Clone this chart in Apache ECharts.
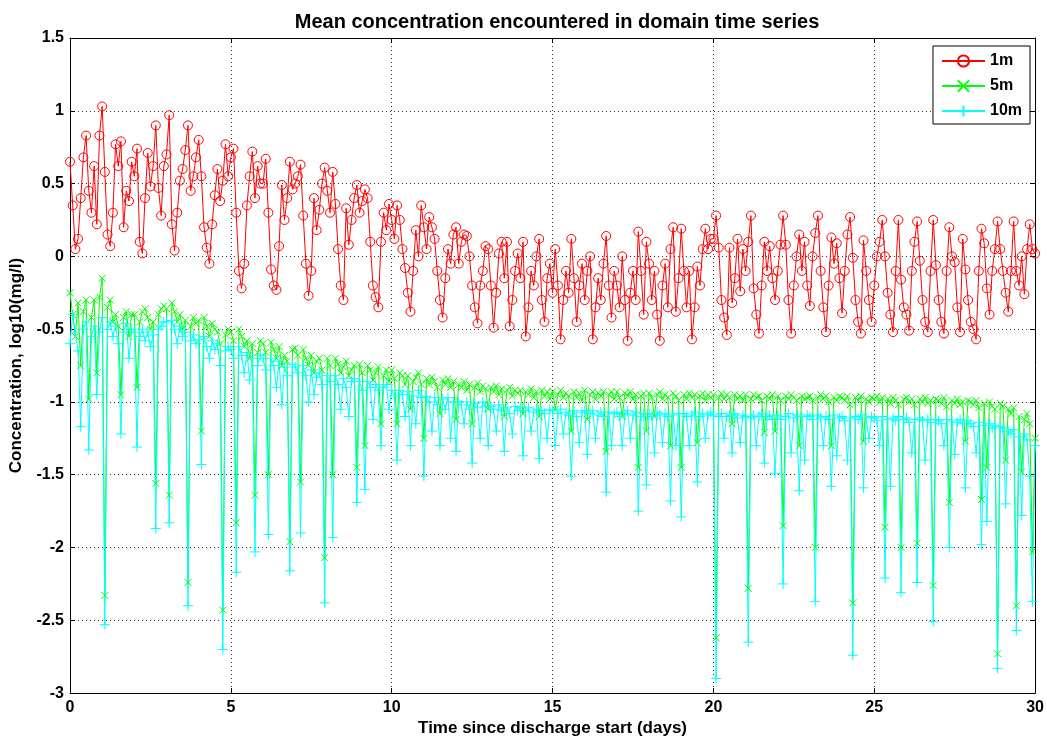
<!DOCTYPE html>
<html>
<head>
<meta charset="utf-8">
<script src="https://cdn.jsdelivr.net/npm/echarts@6/dist/echarts.min.js"></script>
<style>html,body{margin:0;padding:0;background:#fff;}#chart{width:1047px;height:742px;}</style>
</head>
<body>
<div id="chart"></div>
<script>
// Sampling interval of the series (days): one value every 2 hours
const SAMPLE_STEP_DAYS = 1 / 12;
const seriesNames = ['1m', '5m', '10m'];
const xTicks = [0, 5, 10, 15, 20, 25, 30];
const yTicks = [-3, -2.5, -2, -1.5, -1, -0.5, 0, 0.5, 1, 1.5];

// log10 concentration, 1 m depth (one row per day, 12 values per row)
const conc1m = [
  0.65, 0.35, 0.05, 0.12, 0.40, 0.68, 0.83, 0.45, 0.30, 0.62, 0.22, 0.83,
  1.03, 0.58, 0.15, 0.07, 0.30, 0.77, 0.62, 0.79, 0.20, 0.45, 0.38, 0.65,
  0.55, 0.74, 0.10, 0.02, 0.40, 0.71, 0.48, 0.62, 0.90, 0.47, 0.28, 0.62,
  0.70, 0.97, 0.22, 0.04, 0.30, 0.52, 0.60, 0.73, 0.90, 0.45, 0.55, 0.68,
  0.80, 0.55, 0.20, 0.06, -0.05, 0.22, 0.42, 0.60, 0.38, 0.52, 0.77, 0.55,
  0.68, 0.74, 0.30, -0.10, -0.22, -0.05, 0.35, 0.55, 0.72, 0.40, 0.62, 0.50,
  0.50, 0.67, 0.30, -0.09, -0.20, -0.23, 0.07, 0.49, 0.25, 0.40, 0.65, 0.46,
  0.50, 0.55, 0.63, 0.28, -0.05, -0.27, -0.10, 0.40, 0.18, 0.32, 0.50, 0.61,
  0.45, 0.30, 0.58, 0.36, 0.05, -0.20, -0.30, 0.33, 0.08, 0.25, 0.40, 0.49,
  0.30, 0.38, 0.46, 0.40, 0.10, -0.20, -0.28, -0.35, 0.10, 0.30, 0.18, 0.36,
  0.25, 0.12, 0.35, 0.25, 0.05, -0.08, -0.25, -0.38, -0.10, 0.18, 0.00, 0.35,
  0.20, 0.05, 0.27, 0.20, 0.12, -0.10, -0.30, -0.42, -0.15, 0.05, -0.05, 0.15,
  0.20, -0.05, 0.10, 0.15, 0.14, 0.00, -0.20, -0.35, -0.46, -0.20, -0.10, 0.07,
  0.05, -0.20, -0.49, -0.25, 0.02, 0.10, -0.15, 0.10, -0.48, -0.30, -0.10, 0.02,
  -0.15, 0.10, -0.55, -0.35, -0.10, -0.20, 0.00, 0.12, -0.30, -0.45, -0.15, -0.05,
  -0.25, 0.05, -0.20, -0.57, -0.30, -0.10, -0.25, 0.12, -0.15, -0.45, -0.20, -0.05,
  -0.30, -0.10, 0.00, -0.57, -0.35, -0.15, -0.30, -0.05, 0.14, -0.20, -0.42, -0.10,
  -0.20, -0.35, 0.00, -0.30, -0.58, -0.25, -0.10, -0.30, 0.17, -0.10, -0.40, 0.10,
  -0.05, -0.30, -0.10, -0.40, -0.58, -0.20, -0.05, -0.35, 0.05, 0.20, -0.38, -0.15,
  0.19, -0.10, -0.35, -0.10, -0.57, -0.35, -0.07, -0.20, 0.05, 0.19, 0.05, 0.12,
  0.12, 0.28, 0.06, -0.30, -0.42, -0.54, 0.06, -0.32, -0.15, 0.12, -0.24, 0.05,
  -0.10, 0.10, 0.28, -0.22, -0.40, -0.53, -0.20, 0.10, -0.10, 0.07, -0.15, -0.30,
  -0.10, 0.08, 0.28, 0.08, -0.30, -0.53, -0.20, 0.00, 0.15, -0.10, 0.10, -0.20,
  -0.34, 0.00, 0.16, 0.28, -0.10, -0.35, -0.52, -0.20, 0.13, -0.05, 0.09, -0.15,
  -0.39, -0.10, 0.15, 0.27, -0.01, -0.30, -0.45, -0.53, 0.11, -0.10, -0.30, -0.45,
  -0.20, 0.00, 0.10, 0.25, 0.00, -0.25, -0.40, -0.52, -0.10, 0.25, -0.16, -0.35,
  -0.40, -0.51, -0.10, 0.10, 0.24, -0.03, -0.30, -0.45, -0.52, -0.10, 0.25, -0.06,
  -0.30, -0.45, -0.53, -0.10, 0.20, 0.00, -0.04, -0.35, -0.52, 0.12, -0.09, -0.30,
  -0.45, -0.50, -0.57, -0.10, 0.19, 0.09, -0.22, -0.40, -0.10, 0.05, 0.24, 0.05,
  -0.10, -0.25, -0.38, -0.10, 0.24, -0.10, -0.20, 0.00, -0.26, 0.05, 0.22, 0.05,
  0.02
];

// log10 concentration, 5 m depth
const conc5m = [
  -0.25, -0.40, -0.55, -0.32, -0.75, -0.38, -0.30, -0.98, -0.42, -0.30, -0.80, -0.28,
  -0.15, -2.33, -0.35, -0.30, -0.45, -0.40, -0.48, -0.95, -0.42, -0.38, -0.55, -0.40,
  -0.40, -0.90, -0.45, -0.38, -0.36, -0.42, -0.50, -0.45, -1.56, -0.40, -0.36, -0.34,
  -0.36, -1.64, -0.32, -0.38, -0.45, -0.40, -0.50, -0.44, -2.24, -0.48, -0.42, -0.46,
  -0.44, -1.20, -0.42, -0.48, -0.55, -0.46, -0.50, -0.52, -0.60, -2.43, -0.54, -0.50,
  -0.52, -0.58, -1.83, -0.50, -0.55, -0.62, -0.58, -0.70, -0.60, -1.64, -0.66, -0.58,
  -0.60, -0.66, -1.50, -0.59, -0.64, -0.70, -0.62, -0.75, -0.68, -0.72, -1.96, -0.64,
  -0.63, -0.68, -1.55, -0.64, -0.70, -0.75, -0.68, -0.80, -0.72, -0.70, -0.78, -2.07,
  -0.70, -0.75, -1.50, -0.70, -0.74, -0.80, -0.76, -0.72, -0.82, -0.78, -0.75, -1.45,
  -0.74, -0.80, -1.30, -0.75, -0.78, -0.85, -0.80, -0.76, -1.15, -0.82, -0.78, -0.86,
  -0.78, -0.84, -1.15, -0.80, -0.82, -0.88, -0.82, -1.05, -0.86, -0.83, -0.80, -0.88,
  -1.25, -0.84, -0.88, -0.83, -0.86, -0.90, -1.08, -0.85, -0.88, -0.84, -0.90, -0.86,
  -1.12, -0.88, -0.90, -0.86, -0.92, -0.88, -1.15, -0.90, -0.87, -0.93, -0.89, -0.91,
  -1.05, -0.90, -0.93, -0.89, -0.95, -0.91, -1.10, -0.92, -0.90, -0.96, -0.92, -0.94,
  -0.92, -1.08, -0.93, -0.95, -0.91, -0.97, -0.93, -1.10, -0.92, -0.96, -0.93, -0.98,
  -0.93, -1.05, -0.95, -0.92, -0.97, -0.94, -0.96, -1.20, -0.93, -0.97, -0.94, -0.99,
  -0.92, -1.12, -0.95, -0.93, -0.98, -0.94, -0.96, -0.93, -1.34, -0.95, -0.93, -0.98,
  -0.93, -0.97, -1.10, -0.94, -0.96, -0.93, -0.98, -0.95, -1.45, -0.96, -0.94, -1.20,
  -0.94, -0.97, -1.10, -0.95, -0.93, -0.98, -0.95, -0.97, -1.30, -0.94, -0.96, -0.99,
  -1.45, -0.95, -0.98, -0.94, -0.97, -0.95, -1.28, -0.96, -0.94, -0.99, -0.95, -0.97,
  -0.95, -2.62, -0.97, -0.94, -0.98, -0.95, -0.97, -1.15, -0.95, -0.98, -0.96, -0.99,
  -0.95, -2.28, -0.98, -0.95, -0.97, -0.96, -0.99, -1.21, -0.96, -0.98, -0.95, -1.20,
  -0.96, -0.99, -1.85, -0.96, -0.98, -0.95, -0.97, -0.99, -1.30, -0.96, -0.98, -0.97,
  -0.96, -0.99, -2.00, -0.97, -0.95, -0.98, -0.96, -1.00, -1.30, -0.97, -0.99, -0.96,
  -0.97, -0.99, -0.96, -1.02, -2.38, -0.97, -0.99, -0.96, -1.27, -0.98, -1.00, -0.97,
  -0.98, -0.96, -1.00, -0.97, -1.86, -0.98, -1.01, -0.97, -0.99, -1.02, -2.00, -0.98,
  -0.97, -1.00, -0.98, -1.02, -1.97, -0.98, -1.00, -0.97, -1.01, -0.99, -2.26, -0.98,
  -0.99, -1.01, -0.97, -1.03, -1.69, -0.99, -1.01, -0.98, -1.02, -1.00, -1.27, -0.99,
  -1.00, -1.02, -0.99, -1.04, -1.67, -1.01, -1.45, -1.00, -1.03, -1.05, -2.73, -1.01,
  -1.03, -1.40, -1.05, -1.08, -1.04, -2.40, -1.10, -1.48, -1.12, -1.08, -1.15, -2.03,
  -1.25
];

// log10 concentration, 10 m depth
const conc10m = [
  -0.60, -0.40, -0.52, -0.65, -1.17, -0.50, -0.45, -1.33, -0.55, -0.48, -0.95, -0.52,
  -0.42, -2.53, -0.50, -0.45, -0.55, -0.48, -0.60, -1.22, -0.52, -0.46, -0.70, -0.50,
  -0.52, -1.31, -0.55, -0.50, -0.58, -0.52, -0.62, -0.54, -1.87, -0.50, -0.48, -0.45,
  -0.45, -1.83, -0.44, -0.50, -0.60, -0.48, -0.55, -0.52, -2.40, -0.58, -0.54, -0.60,
  -0.57, -1.43, -0.55, -0.62, -0.70, -0.58, -0.64, -0.60, -0.75, -2.70, -0.65, -0.62,
  -0.64, -0.70, -2.17, -0.62, -0.68, -0.80, -0.66, -0.85, -0.70, -2.03, -0.75, -0.68,
  -0.70, -0.78, -1.91, -0.70, -0.75, -0.90, -0.72, -1.02, -0.76, -0.82, -2.16, -0.74,
  -0.76, -0.80, -1.90, -0.75, -0.82, -1.00, -0.78, -0.95, -0.83, -0.80, -0.88, -2.38,
  -0.82, -0.86, -1.93, -0.82, -0.88, -1.05, -0.84, -0.90, -1.10, -0.86, -0.84, -1.69,
  -0.86, -0.92, -1.60, -0.86, -0.90, -1.12, -0.88, -0.92, -1.30, -0.90, -0.88, -1.05,
  -0.92, -0.96, -1.40, -0.92, -0.95, -1.10, -0.93, -1.30, -0.96, -1.15, -0.92, -0.97,
  -1.51, -0.96, -1.00, -1.20, -0.97, -1.02, -1.30, -0.98, -1.05, -0.97, -1.25, -1.00,
  -1.34, -1.00, -1.02, -1.15, -1.00, -1.05, -1.42, -1.01, -1.04, -1.25, -1.00, -1.03,
  -1.30, -1.03, -1.05, -1.20, -1.02, -1.06, -1.34, -1.04, -1.08, -1.22, -1.03, -1.06,
  -1.04, -1.37, -1.06, -1.04, -1.20, -1.07, -1.05, -1.39, -1.06, -1.08, -1.25, -1.05,
  -1.06, -1.30, -1.08, -1.05, -1.22, -1.07, -1.09, -1.51, -1.06, -1.10, -1.28, -1.07,
  -1.06, -1.36, -1.08, -1.06, -1.25, -1.09, -1.07, -1.10, -1.62, -1.07, -1.30, -1.08,
  -1.07, -1.10, -1.30, -1.08, -1.06, -1.25, -1.09, -1.07, -1.75, -1.10, -1.08, -1.57,
  -1.08, -1.10, -1.35, -1.07, -1.09, -1.28, -1.08, -1.10, -1.68, -1.09, -1.30, -1.08,
  -1.79, -1.08, -1.10, -1.30, -1.09, -1.07, -1.55, -1.10, -1.08, -1.25, -1.09, -1.07,
  -1.09, -2.90, -1.10, -1.08, -1.25, -1.10, -1.09, -1.35, -1.08, -1.11, -1.28, -1.09,
  -1.10, -2.65, -1.11, -1.09, -1.30, -1.10, -1.08, -1.42, -1.10, -1.09, -1.12, -1.49,
  -1.09, -1.12, -2.25, -1.10, -1.08, -1.35, -1.11, -1.09, -1.61, -1.10, -1.40, -1.09,
  -1.10, -1.12, -2.37, -1.09, -1.11, -1.30, -1.10, -1.12, -1.58, -1.09, -1.37, -1.11,
  -1.10, -1.13, -1.40, -1.11, -2.74, -1.10, -1.12, -1.09, -1.59, -1.11, -1.25, -1.10,
  -1.11, -1.13, -1.30, -1.10, -2.21, -1.12, -1.58, -1.11, -1.13, -1.10, -2.31, -1.12,
  -1.11, -1.14, -1.35, -1.12, -2.24, -1.11, -1.13, -1.40, -1.12, -1.14, -2.51, -1.12,
  -1.13, -1.15, -1.30, -1.12, -2.00, -1.13, -1.36, -1.14, -1.12, -1.15, -1.59, -1.13,
  -1.15, -1.17, -1.35, -1.14, -1.98, -1.16, -1.82, -1.15, -1.18, -1.16, -2.83, -1.17,
  -1.18, -1.70, -1.20, -1.22, -1.19, -2.57, -1.24, -1.78, -1.22, -1.26, -1.51, -2.37,
  -1.30
];

const FONT = "'Liberation Sans', Arial, Helvetica, sans-serif";
const pair = arr => arr.map((v, i) => [i * SAMPLE_STEP_DAYS, v]);

const chart = echarts.init(document.getElementById('chart'), null, {renderer: 'canvas'});
const axisCommon = {
  axisLine: {show: true, onZero: false, lineStyle: {color: '#000', width: 1}},
  axisTick: {show: true, inside: true, length: 5, lineStyle: {color: '#000'}},
};
const gridLine = {show: true, lineStyle: {color: '#333', type: [1, 3], width: 1}};
const option = {
  animation: false,
  backgroundColor: '#fff',
  title: {
    text: 'Mean concentration encountered in domain time series',
    left: 552, top: 7, textAlign: 'center',
    textStyle: {fontFamily: FONT, fontWeight: 'bold', fontSize: 20, color: '#000'}
  },
  legend: {
    data: seriesNames,
    orient: 'vertical', right: 17, top: 46,
    padding: [7, 8, 5, 8], itemGap: 9, itemWidth: 43, itemHeight: 14,
    backgroundColor: '#fff', borderColor: '#000', borderWidth: 1, borderRadius: 0,
    textStyle: {fontFamily: FONT, fontWeight: 'bold', fontSize: 16, color: '#000'}
  },
  grid: {left: 68, right: 10, top: 38, bottom: 42, show: false},
  xAxis: [{
    type: 'value', min: xTicks[0], max: xTicks[xTicks.length - 1], interval: 5,
    name: 'Time since discharge start (days)', nameLocation: 'middle', nameGap: 24,
    nameTextStyle: {fontFamily: FONT, fontWeight: 'bold', fontSize: 17, color: '#000'},
    ...axisCommon,
    axisLabel: {fontFamily: FONT, fontWeight: 'bold', fontSize: 16, color: '#000', margin: 6},
    splitLine: gridLine
  }, {
    type: 'value', position: 'top', min: xTicks[0], max: xTicks[xTicks.length - 1], interval: 5,
    ...axisCommon, axisLabel: {show: false}, splitLine: {show: false}
  }],
  yAxis: [{
    type: 'value', min: yTicks[0], max: yTicks[yTicks.length - 1], interval: 0.5,
    name: 'Concentration, log10(mg/l)', nameLocation: 'middle', nameGap: 45, nameRotate: 90,
    nameTextStyle: {fontFamily: FONT, fontWeight: 'bold', fontSize: 17, color: '#000'},
    ...axisCommon,
    axisLabel: {fontFamily: FONT, fontWeight: 'bold', fontSize: 16, color: '#000', margin: 6},
    splitLine: gridLine
  }, {
    type: 'value', position: 'right', min: yTicks[0], max: yTicks[yTicks.length - 1], interval: 0.5,
    ...axisCommon, axisLabel: {show: false}, splitLine: {show: false}
  }],
  series: [{
    name: seriesNames[0], type: 'line', data: pair(conc1m),
    showAllSymbol: true, symbol: 'circle', symbolSize: 9,
    lineStyle: {color: '#ff0000', width: 1},
    itemStyle: {color: 'rgba(0,0,0,0)', borderColor: '#ff0000', borderWidth: 1},
    emphasis: {disabled: true}
  }, {
    name: seriesNames[1], type: 'line', data: pair(conc5m),
    showAllSymbol: true, symbol: 'path://M0,0L10,10M10,0L0,10', symbolSize: 7,
    lineStyle: {color: '#00ff00', width: 1},
    itemStyle: {color: '#00ff00', borderColor: '#00ff00', borderWidth: 1},
    emphasis: {disabled: true}
  }, {
    name: seriesNames[2], type: 'line', data: pair(conc10m),
    showAllSymbol: true, symbol: 'path://M5,0L5,10M0,5L10,5', symbolSize: 10,
    lineStyle: {color: '#00ffff', width: 1},
    itemStyle: {color: '#00ffff', borderColor: '#00ffff', borderWidth: 1},
    emphasis: {disabled: true}
  }]
};
chart.setOption(option);
</script>
</body>
</html>
